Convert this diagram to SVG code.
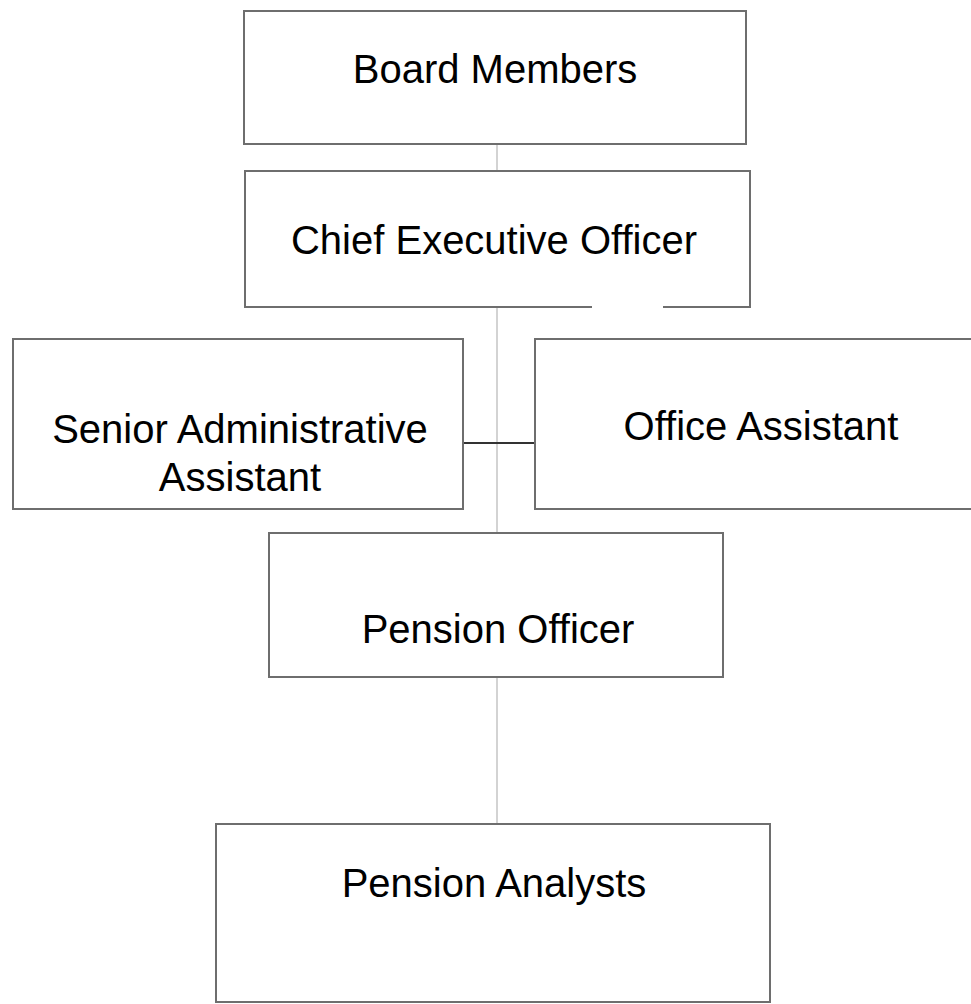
<svg xmlns="http://www.w3.org/2000/svg" width="971" height="1004" viewBox="0 0 971 1004">
<style>
.box{fill:#fff;stroke:#6e6e6e;stroke-width:2}
.lbl{font-family:"Liberation Sans",Arial,sans-serif;font-size:40px;fill:#000;text-anchor:middle}
.con{stroke:#c4c4c4;stroke-width:1.5;fill:none}
.con2{stroke:#333;stroke-width:2;fill:none}
</style>
<rect width="971" height="1004" fill="#fff"/>
<g id="connectors">
<line class="con" x1="497" y1="144" x2="497" y2="824"/>
<line class="con2" x1="463" y1="443" x2="535" y2="443"/>
</g>
<g id="board">
<rect class="box" x="244" y="11" width="502" height="133"/>
<text class="lbl" x="495" y="83">Board Members</text>
</g>
<g id="ceo">
<path class="box" d="M592,307 H245 V171 H750 V307 H663"/>
<text class="lbl" x="494" y="254">Chief Executive Officer</text>
</g>
<g id="senior-admin">
<rect class="box" x="13" y="339" width="450" height="170"/>
<text class="lbl" x="240" y="443">Senior Administrative</text>
<text class="lbl" x="240" y="491">Assistant</text>
</g>
<g id="office-assistant">
<rect class="box" x="535" y="339" width="450" height="170"/>
<text class="lbl" x="761" y="440">Office Assistant</text>
</g>
<g id="pension-officer">
<rect class="box" x="269" y="533" width="454" height="144"/>
<text class="lbl" x="498" y="643">Pension Officer</text>
</g>
<g id="pension-analysts">
<rect class="box" x="216" y="824" width="554" height="178"/>
<text class="lbl" x="494" y="897">Pension Analysts</text>
</g>
</svg>
